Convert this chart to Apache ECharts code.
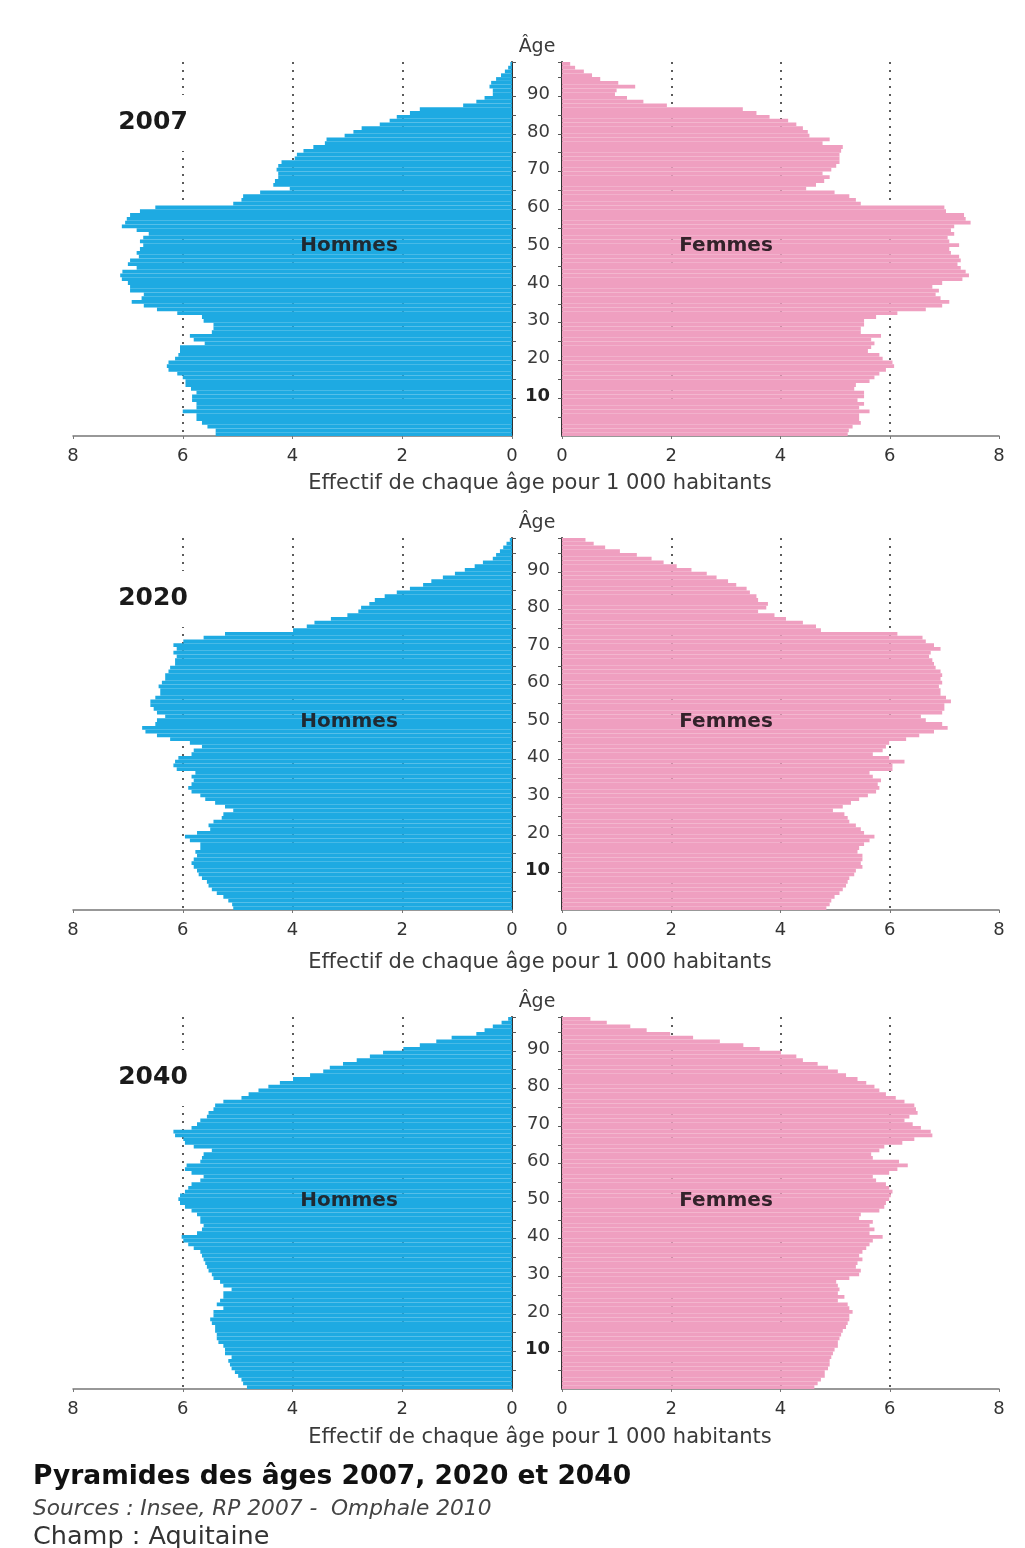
<!DOCTYPE html>
<html>
<head>
<meta charset="utf-8">
<script src="https://cdn.jsdelivr.net/npm/echarts@6/dist/echarts.min.js"></script>
<style>
  html, body { margin: 0; padding: 0; background: #fff; }
  #chart { width: 1025px; height: 1548px; }
</style>
</head>
<body>
<div id="chart"></div>
<script>
// ages 0 .. 98
const ages = [];
for (let a = 0; a <= 98; a++) ages.push(String(a));

const years = ["2007", "2020", "2040"];

// per 1 000 inhabitants, one value per age (0 .. 98)
const men2007 = [
  5.4, 5.4, 5.55, 5.65, 5.75, 5.75, 6.0, 5.75, 5.75, 5.83,
  5.83, 5.75, 5.85, 5.95, 5.95, 6.0, 6.1, 6.26, 6.29, 6.26,
  6.14, 6.08, 6.05, 6.05, 5.6, 5.8, 5.87, 5.47, 5.44, 5.44,
  5.62, 5.65, 6.1, 6.47, 6.71, 6.93, 6.75, 6.71, 6.96, 6.96,
  7.0, 7.11, 7.14, 7.1, 6.84, 7.0, 6.96, 6.8, 6.84, 6.78,
  6.72, 6.78, 6.72, 6.62, 6.84, 7.11, 7.05, 7.02, 6.96, 6.78,
  6.5, 5.08, 4.93, 4.9, 4.59, 4.05, 4.35, 4.32, 4.26, 4.26,
  4.29, 4.26, 4.2, 3.96, 3.92, 3.8, 3.62, 3.41, 3.38, 3.05,
  2.89, 2.74, 2.41, 2.23, 2.1, 1.86, 1.68, 0.89, 0.65, 0.5,
  0.35, 0.35, 0.41, 0.38, 0.29, 0.2, 0.13, 0.07, 0.03
];
const women2007 = [
  5.23, 5.25, 5.32, 5.47, 5.44, 5.44, 5.63, 5.44, 5.53, 5.41,
  5.53, 5.53, 5.35, 5.38, 5.63, 5.72, 5.81, 5.93, 6.08, 6.05,
  5.87, 5.81, 5.6, 5.66, 5.72, 5.66, 5.84, 5.47, 5.47, 5.53,
  5.53, 5.75, 6.14, 6.66, 6.96, 7.09, 6.93, 6.84, 6.9, 6.78,
  6.96, 7.33, 7.45, 7.39, 7.3, 7.24, 7.3, 7.27, 7.12, 7.09,
  7.27, 7.09, 7.06, 7.18, 7.12, 7.18, 7.48, 7.39, 7.36, 7.03,
  7.0, 5.47, 5.38, 5.26, 4.99, 4.47, 4.65, 4.8, 4.9, 4.77,
  4.93, 5.02, 5.08, 5.08, 5.08, 5.11, 5.14, 4.77, 4.9, 4.53,
  4.5, 4.41, 4.29, 4.14, 3.8, 3.56, 3.31, 1.92, 1.49, 1.19,
  0.97, 1.0, 1.34, 1.03, 0.7, 0.55, 0.4, 0.24, 0.15
];
const men2020 = [
  5.08, 5.1, 5.17, 5.26, 5.38, 5.47, 5.53, 5.56, 5.65, 5.71,
  5.74, 5.8, 5.84, 5.8, 5.74, 5.77, 5.68, 5.68, 5.87, 5.96,
  5.74, 5.5, 5.53, 5.44, 5.29, 5.26, 5.08, 5.23, 5.41, 5.59,
  5.68, 5.84, 5.9, 5.84, 5.8, 5.84, 5.77, 6.11, 6.17, 6.14,
  6.08, 5.84, 5.8, 5.65, 5.87, 6.23, 6.47, 6.68, 6.74, 6.5,
  6.47, 6.32, 6.47, 6.53, 6.59, 6.59, 6.5, 6.41, 6.41, 6.44,
  6.38, 6.32, 6.32, 6.26, 6.23, 6.14, 6.14, 6.11, 6.17, 6.11,
  6.17, 5.99, 5.62, 5.23, 3.99, 3.74, 3.6, 3.3, 3.0, 2.8,
  2.75, 2.6, 2.5, 2.32, 2.1, 1.86, 1.62, 1.47, 1.26, 1.04,
  0.86, 0.68, 0.53, 0.35, 0.29, 0.22, 0.16, 0.1, 0.04
];
const women2020 = [
  4.84, 4.9, 4.93, 4.99, 5.08, 5.14, 5.2, 5.23, 5.26, 5.35,
  5.38, 5.5, 5.47, 5.5, 5.5, 5.41, 5.44, 5.53, 5.63, 5.72,
  5.53, 5.47, 5.38, 5.26, 5.23, 5.17, 4.96, 5.14, 5.29, 5.44,
  5.6, 5.75, 5.81, 5.78, 5.84, 5.69, 5.63, 6.05, 6.05, 6.27,
  5.99, 5.69, 5.87, 5.93, 5.99, 6.3, 6.54, 6.81, 7.06, 6.96,
  6.66, 6.57, 6.96, 7.0, 7.0, 7.12, 7.03, 6.93, 6.93, 6.9,
  6.96, 6.93, 6.96, 6.93, 6.84, 6.81, 6.78, 6.72, 6.75, 6.93,
  6.81, 6.66, 6.6, 6.14, 4.74, 4.65, 4.41, 4.1, 3.89, 3.59,
  3.74, 3.77, 3.59, 3.56, 3.44, 3.38, 3.19, 3.04, 2.83, 2.65,
  2.37, 2.1, 1.86, 1.64, 1.37, 1.06, 0.79, 0.58, 0.43
];
const men2040 = [
  4.83, 4.9, 4.93, 4.99, 5.05, 5.11, 5.14, 5.17, 5.11, 5.23,
  5.23, 5.26, 5.35, 5.38, 5.38, 5.41, 5.41, 5.47, 5.5, 5.44,
  5.44, 5.26, 5.38, 5.32, 5.26, 5.26, 5.11, 5.26, 5.32, 5.44,
  5.47, 5.53, 5.56, 5.59, 5.62, 5.65, 5.68, 5.8, 5.9, 5.99,
  6.02, 5.74, 5.65, 5.62, 5.68, 5.68, 5.74, 5.84, 5.96, 6.05,
  6.08, 6.05, 5.96, 5.9, 5.84, 5.68, 5.62, 5.84, 5.96, 5.93,
  5.68, 5.65, 5.62, 5.47, 5.8, 5.96, 5.99, 6.14, 6.17, 5.84,
  5.74, 5.68, 5.56, 5.53, 5.44, 5.41, 5.26, 4.93, 4.8, 4.62,
  4.44, 4.23, 3.99, 3.68, 3.44, 3.32, 3.08, 2.83, 2.59, 2.35,
  1.98, 1.68, 1.38, 1.1, 0.65, 0.5, 0.35, 0.19, 0.07
];
const women2040 = [
  4.62, 4.68, 4.74, 4.81, 4.81, 4.87, 4.9, 4.9, 4.93, 4.96,
  4.99, 5.05, 5.05, 5.08, 5.11, 5.14, 5.2, 5.23, 5.26, 5.26,
  5.32, 5.26, 5.23, 5.05, 5.17, 5.05, 5.08, 5.05, 5.02, 5.26,
  5.44, 5.47, 5.38, 5.41, 5.5, 5.44, 5.5, 5.57, 5.63, 5.69,
  5.87, 5.63, 5.72, 5.63, 5.69, 5.44, 5.47, 5.81, 5.9, 5.93,
  5.99, 6.02, 6.05, 5.99, 5.93, 5.75, 5.69, 5.99, 6.14, 6.33,
  6.17, 5.69, 5.66, 5.81, 5.9, 6.23, 6.45, 6.78, 6.75, 6.57,
  6.42, 6.27, 6.36, 6.51, 6.48, 6.45, 6.27, 6.11, 5.93, 5.81,
  5.72, 5.57, 5.41, 5.2, 5.05, 4.87, 4.68, 4.41, 4.29, 4.01,
  3.62, 3.32, 2.89, 2.4, 1.98, 1.55, 1.25, 0.82, 0.52
];

const menData = [men2007, men2020, men2040];
const womenData = [women2007, women2020, women2040];

const FONT = '"DejaVu Sans", sans-serif';
const BLUE = "#1eaae2";
const PINK = "#ef9fc0";

// layout of the three pyramids
const tops = [62, 538, 1017];
const heights = [374, 372, 372];
const nameY = [484, 963, 1438];

const chart = echarts.init(document.getElementById("chart"));

const grid = [];
const xAxis = [];
const yAxis = [];
const series = [];
const graphic = [];

function xAxisFor(i, inverse) {
  return {
    gridIndex: i,
    type: "value",
    min: 0,
    max: 8,
    interval: 2,
    inverse: inverse,
    axisLine: { show: true, lineStyle: { color: "#777", width: 1.5 } },
    axisTick: { show: true, length: 3, lineStyle: { color: "#777" } },
    axisLabel: { color: "#333", fontSize: 18, fontFamily: FONT, margin: 11 },
    splitLine: {
      show: true,
      showMinLine: false,
      showMaxLine: false,
      lineStyle: { color: "#333", width: 1.6, type: [2, 6] }
    }
  };
}

function yAxisFor(i, side) {
  return {
    gridIndex: i,
    type: "category",
    data: ages,
    position: side,
    axisLine: { show: true, onZero: false, lineStyle: { color: "#333", width: 2 } },
    axisTick: {
      show: true,
      length: 4,
      interval: function (idx) { return idx % 5 === 0 && idx > 0; },
      lineStyle: { color: "#555" }
    },
    axisLabel: {
      show: side === "left",
      margin: 12,
      color: "#3a3a3a",
      fontSize: 18,
      fontFamily: FONT,
      interval: function (idx, v) { return v % 10 === 0 && v > 0; },
      formatter: function (v) { return v === "10" ? "{b|10}" : v; },
      rich: { b: { fontWeight: "bold", fontSize: 18, fontFamily: FONT, color: "#222" } }
    },
    splitLine: { show: false }
  };
}

years.forEach(function (year, p) {
  const top = tops[p];
  const h = heights[p];
  const li = p * 2;
  const ri = p * 2 + 1;

  grid.push({ left: 73, top: top, width: 439, height: h });
  grid.push({ left: 562, top: top, width: 437, height: h });

  xAxis.push(xAxisFor(li, true));
  xAxis.push(xAxisFor(ri, false));
  yAxis.push(yAxisFor(li, "right"));
  yAxis.push(yAxisFor(ri, "left"));

  // bars touch each other; only anti-aliasing leaves faint seams
  series.push({
    name: "Hommes " + year,
    type: "bar",
    xAxisIndex: li,
    yAxisIndex: li,
    data: menData[p],
    barWidth: "100%",
    itemStyle: { color: BLUE },
    silent: true
  });
  series.push({
    name: "Femmes " + year,
    type: "bar",
    xAxisIndex: ri,
    yAxisIndex: ri,
    data: womenData[p],
    barWidth: "100%",
    itemStyle: { color: PINK },
    silent: true
  });

  // "Âge" above the age axis
  graphic.push({
    type: "text", z: 100,
    style: {
      text: "Âge", x: 537, y: top - 15,
      font: "19px " + FONT, fill: "#3a3a3a",
      textAlign: "center", textVerticalAlign: "middle"
    }
  });
  // year, on a white patch that hides the dotted line
  graphic.push({
    type: "rect", z: 90,
    shape: { x: 110, y: top + 33, width: 86, height: 56 },
    style: { fill: "#fff" }
  });
  graphic.push({
    type: "text", z: 100,
    style: {
      text: year, x: 153, y: top + 60,
      font: "bold 25px " + FONT, fill: "#1a1a1a",
      textAlign: "center", textVerticalAlign: "middle"
    }
  });
  graphic.push({
    type: "text", z: 100,
    style: {
      text: "Hommes", x: 349, y: top + 184,
      font: "bold 20px " + FONT, fill: "#1f2a33",
      textAlign: "center", textVerticalAlign: "middle"
    }
  });
  graphic.push({
    type: "text", z: 100,
    style: {
      text: "Femmes", x: 726, y: top + 184,
      font: "bold 20px " + FONT, fill: "#33222a",
      textAlign: "center", textVerticalAlign: "middle"
    }
  });
  graphic.push({
    type: "text", z: 100,
    style: {
      text: "Effectif de chaque âge pour 1 000 habitants", x: 540, y: nameY[p],
      font: "21px " + FONT, fill: "#3a3a3a",
      textAlign: "center", textVerticalAlign: "middle"
    }
  });
});

// captions
graphic.push({
  type: "text", z: 100,
  style: {
    text: "Pyramides des âges 2007, 2020 et 2040", x: 33, y: 1477,
    font: "bold 26.5px " + FONT, fill: "#111",
    textAlign: "left", textVerticalAlign: "middle"
  }
});
graphic.push({
  type: "text", z: 100,
  style: {
    text: "Sources : Insee, RP 2007 -  Omphale 2010", x: 33, y: 1509,
    font: "italic 21.7px " + FONT, fill: "#444",
    textAlign: "left", textVerticalAlign: "middle"
  }
});
graphic.push({
  type: "text", z: 100,
  style: {
    text: "Champ : Aquitaine", x: 33, y: 1537,
    font: "25.5px " + FONT, fill: "#333",
    textAlign: "left", textVerticalAlign: "middle"
  }
});

chart.setOption({
  backgroundColor: "#fff",
  animation: false,
  grid: grid,
  xAxis: xAxis,
  yAxis: yAxis,
  series: series,
  graphic: graphic
});
</script>
</body>
</html>
